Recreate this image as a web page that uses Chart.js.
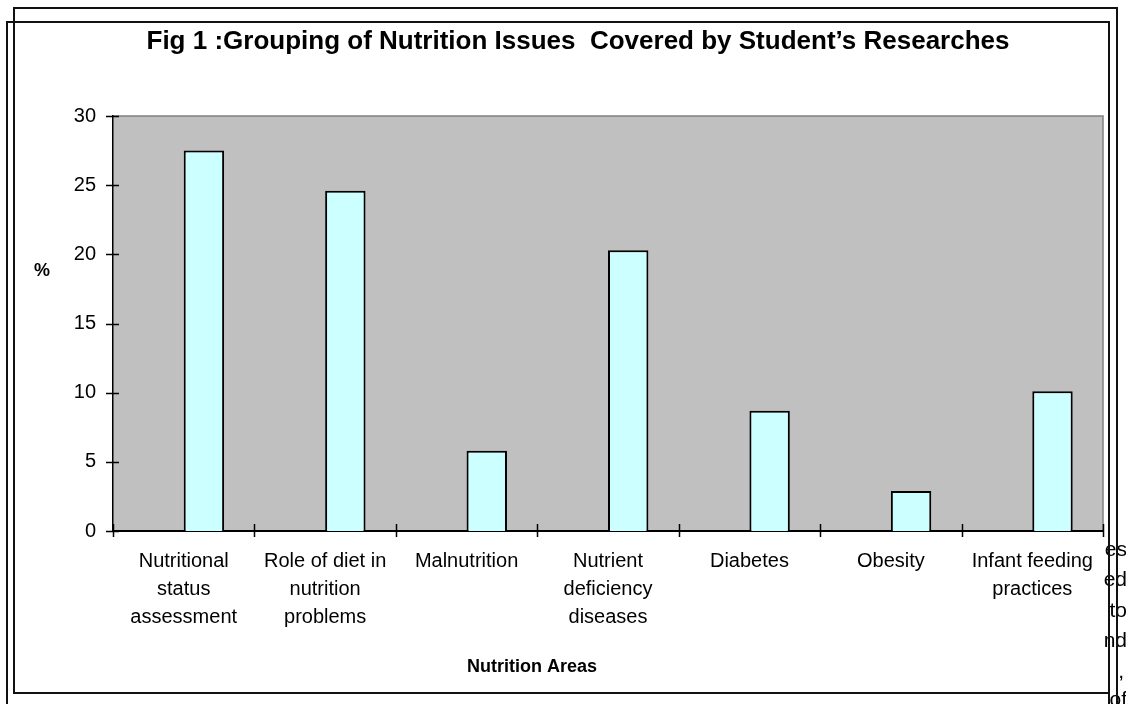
<!DOCTYPE html>
<html>
<head>
<meta charset="utf-8">
<script src="https://cdn.jsdelivr.net/npm/chart.js@4/dist/chart.umd.min.js"></script>
<style>
  html, body { margin: 0; padding: 0; background: #fff; }
  #wrap { position: relative; width: 1126px; height: 704px; overflow: hidden; }
  #chart { position: absolute; left: 0; top: 0; }
  .rule { position: absolute; background: #111; }
  #side { position: absolute; left: 1104px; top: 530px; width: 22px; height: 174px; overflow: hidden;
          font: 21px "Liberation Sans", Arial, sans-serif; color: #000; }
  #side div { position: absolute; right: 0; white-space: pre; line-height: 21px; }
</style>
</head>
<body>
<div id="wrap">
  <canvas id="chart" width="1126" height="704"></canvas>
  <div id="side">
    <div style="top:8px;right:-1px">es</div>
    <div style="top:38px;right:-1px">ed</div>
    <div style="top:69px;right:-1px">to</div>
    <div style="top:99px;right:-1px">nd</div>
    <div style="top:130px;right:2px">,</div>
    <div style="top:158px;right:-1px">of</div>
  </div>
  <div class="rule" style="left:14px;top:7px;width:1104px;height:2px"></div>
  <div class="rule" style="left:7px;top:21px;width:1103px;height:2px"></div>
  <div class="rule" style="left:6px;top:21px;width:2px;height:683px"></div>
  <div class="rule" style="left:13px;top:7px;width:2px;height:687px"></div>
  <div class="rule" style="left:1108px;top:21px;width:2px;height:683px"></div>
  <div class="rule" style="left:1116px;top:7px;width:2px;height:697px"></div>
  <div class="rule" style="left:13px;top:692px;width:1097px;height:2px"></div>
</div>
<script>
// Nutrition areas (category labels, one entry per wrapped line)
const categories = [
  ['Nutritional', 'status', 'assessment'],
  ['Role of diet in', 'nutrition', 'problems'],
  ['Malnutrition'],
  ['Nutrient', 'deficiency', 'diseases'],
  ['Diabetes'],
  ['Obesity'],
  ['Infant feeding', 'practices']
];
// Share of student researches per area, in percent
const percentValues = [27.5, 24.6, 5.8, 20.3, 8.7, 2.9, 10.1];
// Empty companion series (keeps the bar to the right of each category centre)
const blankValues = [null, null, null, null, null, null, null];
const yTicks = [0, 5, 10, 15, 20, 25, 30];

const chartTitle = 'Fig 1 :Grouping of Nutrition Issues  Covered by Student\u2019s Researches';
const xTitle = 'Nutrition Areas';
const yTitle = '%';

const FONT = '"Liberation Sans", Arial, Helvetica, sans-serif';

const plotDecor = {
  id: 'plotDecor',
  beforeDraw(chart) {
    const { ctx, chartArea: a } = chart;
    ctx.save();
    ctx.fillStyle = '#ffffff';
    ctx.fillRect(0, 0, chart.width, chart.height);
    ctx.fillStyle = '#c0c0c0';
    ctx.fillRect(a.left, a.top, a.right - a.left, a.bottom - a.top);
    ctx.strokeStyle = '#808080';
    ctx.lineWidth = 1.5;
    ctx.beginPath();
    ctx.moveTo(a.left, a.top);
    ctx.lineTo(a.right, a.top);
    ctx.lineTo(a.right, a.bottom);
    ctx.stroke();
    ctx.restore();
  },
  afterDraw(chart) {
    const { ctx, chartArea: a } = chart;
    const xs = chart.scales.x, ys = chart.scales.y;
    ctx.save();
    ctx.strokeStyle = '#000';
    ctx.lineWidth = 1.5;
    ctx.beginPath();
    // cross tick marks on the value axis
    ys.ticks.forEach((t, i) => {
      const y = Math.round(ys.getPixelForTick(i)) + 0.5;
      ctx.moveTo(a.left - 7, y);
      ctx.lineTo(a.left + 6, y);
    });
    // cross tick marks between categories
    for (let i = 0; i <= categories.length; i++) {
      const x = Math.round(xs.getPixelForValue(i - 0.5)) + 0.5;
      ctx.moveTo(x, a.bottom - 7);
      ctx.lineTo(x, a.bottom + 6);
    }
    ctx.stroke();
    ctx.fillStyle = '#000';
    ctx.textAlign = 'center';
    ctx.textBaseline = 'middle';
    // chart title
    ctx.font = 'bold 26px ' + FONT;
    ctx.fillText(chartTitle, 578, 42);
    // axis titles
    ctx.font = 'bold 18px ' + FONT;
    ctx.fillText(yTitle, 42, 271);
    ctx.fillText(xTitle, 532, 667);
    ctx.restore();
  }
};

new Chart(document.getElementById('chart'), {
  type: 'bar',
  data: {
    labels: categories,
    datasets: [
      { label: 'blank', data: blankValues, backgroundColor: 'rgba(0,0,0,0)' },
      {
        label: '%',
        data: percentValues,
        backgroundColor: '#ccffff',
        borderColor: '#000000',
        borderWidth: 2,
        borderSkipped: 'start'
      }
    ]
  },
  options: {
    responsive: false,
    animation: false,
    events: [],
    layout: { padding: { left: 51, right: 23, top: 116, bottom: 23 } },
    datasets: { bar: { categoryPercentage: 0.5714, barPercentage: 1 } },
    plugins: {
      legend: { display: false },
      tooltip: { enabled: false },
      title: { display: false }
    },
    scales: {
      x: {
        offset: true,
        grid: { display: false, drawTicks: false },
        border: { display: true, color: '#000', width: 2 },
        ticks: {
          color: '#000',
          font: { family: FONT, size: 20, lineHeight: 1.4 },
          padding: 16,
          autoSkip: false,
          maxRotation: 0,
          minRotation: 0
        },
        afterFit(scale) { scale.height = 150; }
      },
      y: {
        min: 0,
        max: 30,
        grid: { display: false, drawTicks: false },
        border: { display: true, color: '#000', width: 1.5 },
        afterBuildTicks(scale) { scale.ticks = yTicks.map(v => ({ value: v })); },
        ticks: {
          color: '#000',
          font: { family: FONT, size: 20 },
          padding: 17
        },
        afterFit(scale) { scale.width = 62; }
      }
    }
  },
  plugins: [plotDecor]
});
</script>
</body>
</html>
